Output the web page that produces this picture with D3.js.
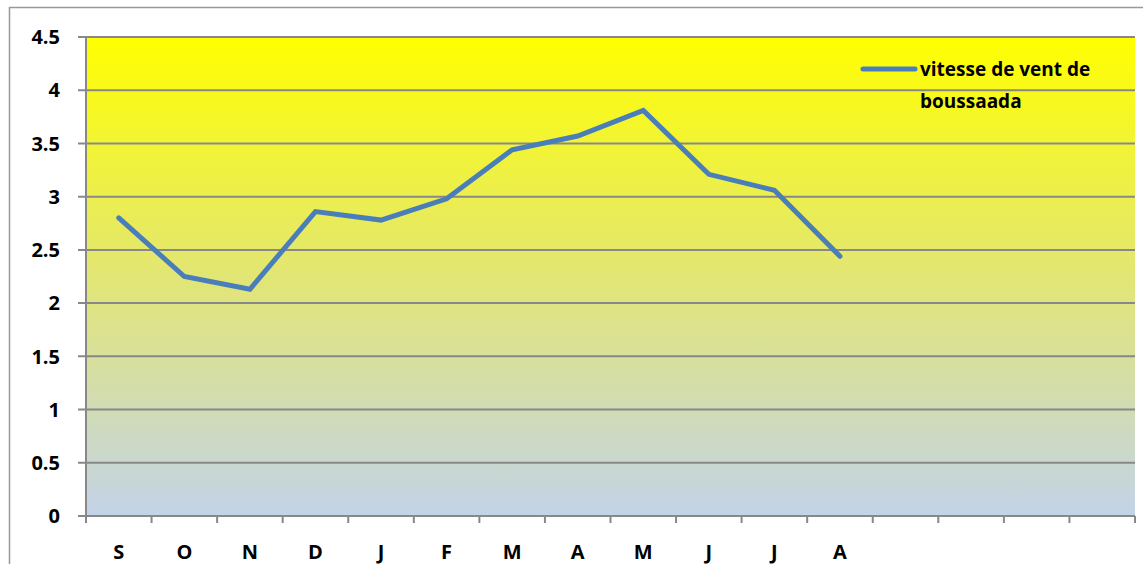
<!DOCTYPE html>
<meta charset="utf-8">
<title>vitesse de vent de boussaada</title>
<script src="https://cdn.jsdelivr.net/npm/d3@7"></script>
<style>
  body { margin: 0; background: #fff; }
  text { font-family: "Open Sans", "Noto Sans", sans-serif; font-weight: bold; fill: #000; }
</style>
<body>
<svg id="chart" width="1143" height="564"></svg>
<script>
  // data
  var months = ["S", "O", "N", "D", "J", "F", "M", "A", "M", "J", "J", "A"];
  var slots = 16; // the axis has room for 16 categories, only 12 used
  var speed = [2.80, 2.25, 2.13, 2.86, 2.78, 2.98, 3.44, 3.57, 3.81, 3.21, 3.06, 2.44];
  var yTicks = [0, 0.5, 1, 1.5, 2, 2.5, 3, 3.5, 4, 4.5];
  var seriesName = ["vitesse de vent de", "boussaada"];

  var svg = d3.select("#chart");
  var plotLeft = 86, plotRight = 1135, plotTop = 37, plotBottom = 516;

  // outer frame
  svg.append("rect")
    .attr("x", 9.5).attr("y", 7.5)
    .attr("width", 1200).attr("height", 600)
    .attr("fill", "none").attr("stroke", "#999").attr("stroke-width", 1.5);

  var grad = svg.append("defs").append("linearGradient")
    .attr("id", "bg").attr("x1", 0).attr("y1", 0).attr("x2", 0).attr("y2", 1);
  grad.append("stop").attr("offset", "0%").attr("stop-color", "#ffff00");
  grad.append("stop").attr("offset", "50%").attr("stop-color", "#e2e674");
  grad.append("stop").attr("offset", "100%").attr("stop-color", "#c3d3e9");

  svg.append("rect")
    .attr("x", plotLeft).attr("y", plotTop)
    .attr("width", plotRight - plotLeft).attr("height", plotBottom - plotTop)
    .attr("fill", "url(#bg)");

  var x = d3.scaleBand().domain(d3.range(slots)).range([plotLeft, plotRight]);
  var y = d3.scaleLinear().domain([0, 4.5]).range([plotBottom, plotTop]);

  // gridlines
  svg.append("g").selectAll("line").data(yTicks).enter().append("line")
    .attr("x1", plotLeft - 8).attr("x2", plotRight)
    .attr("y1", function (d) { return y(d); })
    .attr("y2", function (d) { return y(d); })
    .attr("stroke", "#888").attr("stroke-width", 2);

  // y axis line
  svg.append("line")
    .attr("x1", plotLeft).attr("x2", plotLeft)
    .attr("y1", plotTop).attr("y2", plotBottom)
    .attr("stroke", "#888").attr("stroke-width", 2);

  // y labels
  svg.append("g").selectAll("text").data(yTicks).enter().append("text")
    .attr("x", 60).attr("y", function (d) { return y(d); })
    .attr("dy", "0.36em")
    .attr("text-anchor", "end")
    .style("font-size", "20px")
    .text(function (d) { return d; });

  // x ticks
  var xt = d3.range(slots + 1).map(function (i) { return plotLeft + i * x.step(); });
  svg.append("g").selectAll("line").data(xt).enter().append("line")
    .attr("x1", function (d) { return d; }).attr("x2", function (d) { return d; })
    .attr("y1", plotBottom).attr("y2", plotBottom + 7)
    .attr("stroke", "#888").attr("stroke-width", 2);

  // x labels
  svg.append("g").selectAll("text").data(months).enter().append("text")
    .attr("x", function (d, i) { return x(i) + x.bandwidth() / 2; })
    .attr("y", 559)
    .attr("text-anchor", "middle")
    .style("font-size", "20px")
    .text(function (d) { return d; });

  // series line
  var line = d3.line()
    .x(function (d, i) { return x(i) + x.bandwidth() / 2; })
    .y(function (d) { return y(d); });

  svg.append("path")
    .datum(speed)
    .attr("d", line)
    .attr("fill", "none")
    .attr("stroke", "#4a7ebb")
    .attr("stroke-width", 5)
    .attr("stroke-linecap", "round")
    .attr("stroke-linejoin", "miter");

  // legend
  svg.append("line")
    .attr("x1", 863).attr("x2", 915)
    .attr("y1", 69).attr("y2", 69)
    .attr("stroke", "#4a7ebb").attr("stroke-width", 5)
    .attr("stroke-linecap", "round");

  svg.append("g").selectAll("text").data(seriesName).enter().append("text")
    .attr("x", 920)
    .attr("y", function (d, i) { return 76 + i * 32; })
    .style("font-size", "19px")
    .text(function (d) { return d; });
</script>
</body>
